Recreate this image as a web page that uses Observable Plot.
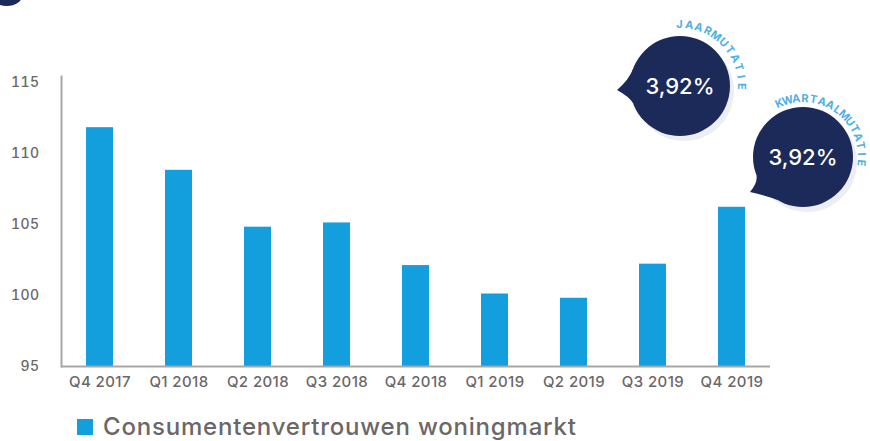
<!DOCTYPE html>
<html><head><meta charset="utf-8">
<script src="https://cdn.jsdelivr.net/npm/d3@7"></script>
<script src="https://cdn.jsdelivr.net/npm/@observablehq/plot@0.6"></script>
<style>
body{margin:0;background:#fff;width:870px;height:441px;overflow:hidden;position:relative;font-family:Inter,"Open Sans",sans-serif;}
#chart{position:absolute;left:0;top:0;}
#legend{position:absolute;left:77px;top:412px;display:flex;align-items:center;gap:10px;color:#6b6768;font-size:24px;font-weight:500;letter-spacing:0.8px}
#legend .sw{width:16px;height:16px;background:#139fdd;display:inline-block}
#corner{position:absolute;left:-8px;top:-14px;width:30px;height:20px;border-radius:50%;background:#1c2a5a}
</style></head><body>
<div id="corner"></div>
<div id="chart"></div>
<div id="legend"><span class="sw"></span><span>Consumentenvertrouwen woningmarkt</span></div>
<script>
const quarters = ["Q4 2017","Q1 2018","Q2 2018","Q3 2018","Q4 2018","Q1 2019","Q2 2019","Q3 2019","Q4 2019"];
const values = [111.8, 108.8, 104.8, 105.1, 102.1, 100.1, 99.8, 102.2, 106.2];
const yTicks = [95, 100, 105, 110, 115];
const yBase = 95;
const annotationLabels = ["JAARMUTATIE", "KWARTAALMUTATIE"];
const annotationValues = ["3,92%", "3,92%"];

const data = quarters.map((q, i) => ({q, v: values[i]}));
const grey = "#6b6768";
const axisGrey = "#aaa5a5";

const plot = Plot.plot({
  width: 870,
  height: 400,
  marginLeft: 61,
  marginRight: 100,
  marginTop: 76,
  marginBottom: 34,
  style: {fontFamily: "Inter, 'Open Sans', sans-serif", background: "transparent", overflow: "visible"},
  x: {domain: quarters, paddingInner: 0.654, paddingOuter: 0.262, align: 0.5, label: null},
  y: {domain: [yBase, 115.4], label: null},
  marks: [
    Plot.barY(data, {x: "q", y1: yBase, y2: "v", fill: "#139fdd"}),
    Plot.frame({anchor: "left", stroke: axisGrey, strokeWidth: 2}),
    Plot.ruleY([yBase], {stroke: axisGrey, strokeWidth: 2}),
    Plot.axisY({ticks: yTicks, tickSize: 0, tickPadding: 22, fontSize: 14, fontWeight: 500, fill: grey, label: null}),
    Plot.axisX({tickSize: 0, tickPadding: 10, fontSize: 15, fontWeight: 500, fill: grey, label: null})
  ]
});
plot.querySelectorAll("[aria-label='x-axis tick label'] text, [aria-label='y-axis tick label'] text").forEach(t => t.setAttribute("letter-spacing", "0.4"));
document.getElementById("chart").appendChild(plot);

// speech-bubble annotations
const svg = d3.select(plot);
const bubbles = [
  {cx: 680, cy: 86, r: 50, tail: [617, 90], tailA: [160, 200], a0: -95, a1: 5, tr: 58},
  {cx: 803, cy: 157, r: 50, tail: [750, 192], tailA: [120, 158], a0: -118, a1: 10, tr: 55}
];
const rad = d => d * Math.PI / 180;
bubbles.forEach((b, i) => {
  const g = svg.append("g");
  g.append("circle").attr("cx", b.cx + 4).attr("cy", b.cy + 5).attr("r", b.r).attr("fill", "#eceef1");
  const p1 = [b.cx + b.r * Math.cos(rad(b.tailA[0])), b.cy + b.r * Math.sin(rad(b.tailA[0]))];
  const p2 = [b.cx + b.r * Math.cos(rad(b.tailA[1])), b.cy + b.r * Math.sin(rad(b.tailA[1]))];
  g.append("path").attr("d", `M${p1}Q${(p1[0]+b.tail[0])/2+4},${(p1[1]+b.tail[1])/2} ${b.tail}Q${(p2[0]+b.tail[0])/2+4},${(p2[1]+b.tail[1])/2} ${p2}Z`).attr("fill", "#1c2a5a");
  g.append("circle").attr("cx", b.cx).attr("cy", b.cy).attr("r", b.r).attr("fill", "#1c2a5a");
  g.append("text").attr("x", b.cx).attr("y", b.cy).attr("dy", "0.36em").attr("text-anchor", "middle")
    .attr("fill", "#fff").attr("font-size", 22).attr("font-weight", 500).text(annotationValues[i]);
  const chars = annotationLabels[i].split("");
  const n = chars.length;
  chars.forEach((c, k) => {
    const a = b.a0 + (k + 0.5) * (b.a1 - b.a0) / n;
    const x = b.cx + b.tr * Math.cos(rad(a)), y = b.cy + b.tr * Math.sin(rad(a));
    g.append("text").attr("fill", "#4fb0e6").attr("font-size", 11).attr("font-weight", 700)
      .attr("text-anchor", "middle")
      .attr("transform", `translate(${x},${y}) rotate(${a + 90})`).text(c);
  });
});
</script>
</body></html>
